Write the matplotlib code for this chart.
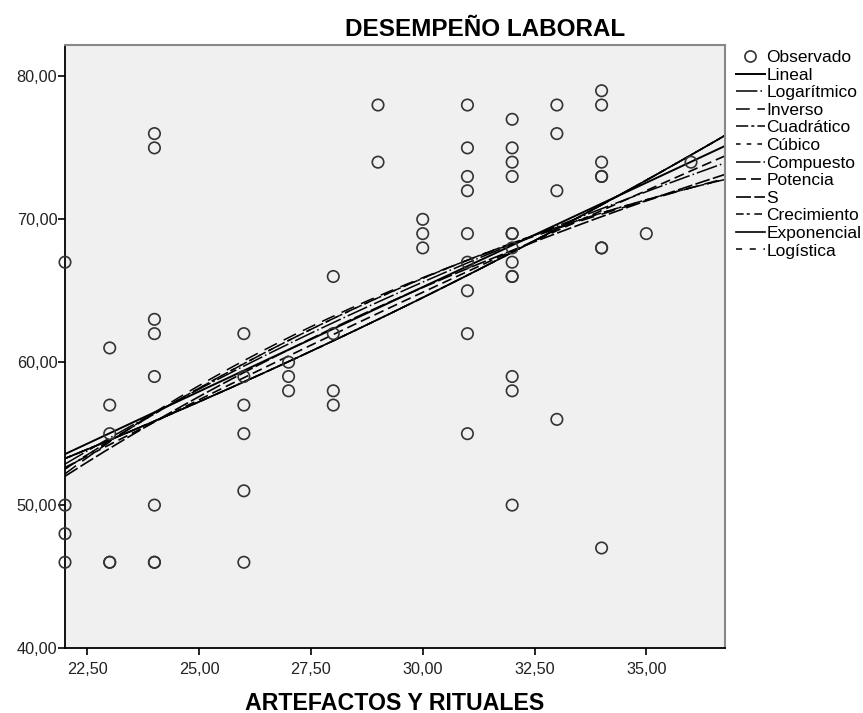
import numpy as np
import matplotlib
matplotlib.use("Agg")
import matplotlib.pyplot as plt
from matplotlib.lines import Line2D
from matplotlib.ticker import FuncFormatter

plt.rcParams['font.family'] = ['Liberation Sans', 'DejaVu Sans']

# ---- data ----
artefactos = [22, 22, 22, 22,
              23, 23, 23, 23, 23,
              24, 24, 24, 24, 24, 24, 24, 24,
              26, 26, 26, 26, 26, 26,
              27, 27, 27,
              28, 28, 28, 28,
              29, 29,
              30, 30, 30,
              31, 31, 31, 31, 31, 31, 31, 31, 31,
              32, 32, 32, 32, 32, 32, 32, 32, 32, 32, 32, 32, 32,
              33, 33, 33, 33,
              34, 34, 34, 34, 34, 34, 34, 34,
              35,
              36]
desempeno = [67, 50, 48, 46,
             61, 57, 55, 46, 46,
             76, 75, 63, 62, 59, 50, 46, 46,
             62, 59, 57, 55, 51, 46,
             60, 59, 58,
             66, 62, 58, 57,
             78, 74,
             70, 69, 68,
             78, 75, 73, 72, 69, 67, 65, 62, 55,
             77, 75, 74, 73, 69, 69, 68, 67, 66, 66, 59, 58, 50,
             78, 76, 72, 56,
             79, 78, 74, 73, 73, 68, 68, 47,
             69,
             74]

model_names = ["Lineal", "Logarítmico", "Inverso", "Cuadrático", "Cúbico",
               "Compuesto", "Potencia", "S", "Crecimiento", "Exponencial",
               "Logística"]
x_ticks = [22.5, 25.0, 27.5, 30.0, 32.5, 35.0]
y_ticks = [40, 50, 60, 70, 80]
x_range = (22.0, 36.76)
y_range = (40.0, 82.2)

styles = {
    "Lineal": dict(ls='-', lw=1.4),
    "Logarítmico": dict(ls=(0, (14, 2, 1, 2)), lw=1.1),
    "Inverso": dict(ls=(0, (9, 5)), lw=1.1),
    "Cuadrático": dict(ls=(0, (8, 2, 2, 2)), lw=1.1),
    "Cúbico": dict(ls=(0, (3, 4)), lw=1.1),
    "Compuesto": dict(ls=(0, (16, 2, 1, 2)), lw=1.1),
    "Potencia": dict(ls=(0, (6, 3)), lw=1.2),
    "S": dict(ls=(0, (9, 2)), lw=1.2),
    "Crecimiento": dict(ls=(0, (5, 2, 2, 3)), lw=1.1),
    "Exponencial": dict(ls='-', lw=1.2),
    "Logística": dict(ls=(0, (4, 5)), lw=1.1),
}

x = np.array(artefactos, dtype=float)
y = np.array(desempeno, dtype=float)
xs = np.linspace(x_range[0], x_range[1], 200)

def fit(name):
    if name == "Lineal":
        return np.polyval(np.polyfit(x, y, 1), xs)
    if name == "Logarítmico":
        c = np.polyfit(np.log(x), y, 1); return np.polyval(c, np.log(xs))
    if name == "Inverso":
        c = np.polyfit(1 / x, y, 1); return np.polyval(c, 1 / xs)
    if name in ("Cuadrático", "Cúbico"):
        # the cubic term is dropped for tolerance, as SPSS does with collinear terms
        return np.polyval(np.polyfit(x, y, 2), xs)
    if name in ("Compuesto", "Crecimiento", "Exponencial"):
        c = np.polyfit(x, np.log(y), 1); return np.exp(np.polyval(c, xs))
    if name == "Potencia":
        c = np.polyfit(np.log(x), np.log(y), 1); return np.exp(np.polyval(c, np.log(xs)))
    if name == "S":
        c = np.polyfit(1 / x, np.log(y), 1); return np.exp(np.polyval(c, 1 / xs))
    if name == "Logística":
        c = np.polyfit(x, np.log(1 / y), 1); return 1 / np.exp(np.polyval(c, xs))

fig = plt.figure(figsize=(8.63, 7.13), dpi=100)
ax = fig.add_axes([65 / 863, 1 - 648 / 713, 660 / 863, 603 / 713])
ax.set_facecolor('#f0f0f0')

handles = [Line2D([], [], marker='o', ls='none', mfc='none', mec='#333333',
                  mew=1.2, ms=8, label="Observado")]
for name in model_names:
    st = styles[name]
    ax.plot(xs, fit(name), color='black', linestyle=st['ls'], lw=st['lw'], zorder=2)
    handles.append(Line2D([], [], color='black', linestyle=st['ls'], lw=st['lw'], label=name))

ax.scatter(x, y, s=68, facecolors='none', edgecolors='#333333', linewidths=1.2,
           zorder=3, clip_on=False)

ax.set_xlim(*x_range)
ax.set_ylim(*y_range)
ax.set_xticks(x_ticks)
ax.set_yticks(y_ticks)
fmt = FuncFormatter(lambda v, p: f"{v:.2f}".replace('.', ','))
ax.xaxis.set_major_formatter(fmt)
ax.yaxis.set_major_formatter(fmt)
ax.tick_params(direction='out', length=5, width=1.2, labelsize=11.7, colors='black',
               labelcolor='#222222')
ax.tick_params(axis='x', pad=5)
ax.tick_params(axis='y', pad=0.5)
for s in ('left', 'bottom'):
    ax.spines[s].set_color('black'); ax.spines[s].set_linewidth(1.3)
for s in ('top', 'right'):
    ax.spines[s].set_color('#888888'); ax.spines[s].set_linewidth(1.5)

fig.text(485 / 863, 1 - 29 / 713, "DESEMPEÑO LABORAL", ha='center', va='center',
         fontsize=17.5, fontweight='bold')
fig.text(395 / 863, 1 - 703 / 713, "ARTEFACTOS Y RITUALES", ha='center', va='center',
         fontsize=16.7, fontweight='bold')

fig.legend(handles=handles, loc='upper left', bbox_to_anchor=(736 / 863, 1 - 50 / 713),
           frameon=False, fontsize=12.5, handlelength=1.65, handletextpad=0.1,
           labelspacing=0.14, borderaxespad=0, borderpad=0)

fig.savefig("out.png", dpi=100)
